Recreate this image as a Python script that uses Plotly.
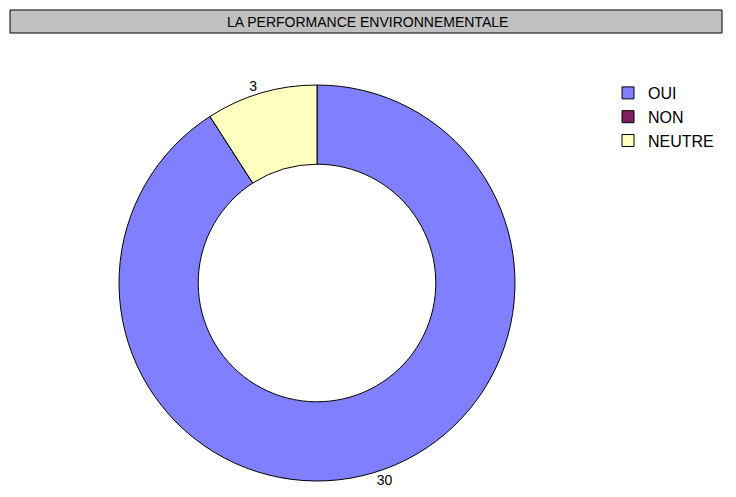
import plotly.graph_objects as go

categories = ["OUI", "NON", "NEUTRE"]
values = [30, 0, 3]
colors = ["#8080FF", "#802060", "#FFFFC0"]
title_text = "LA PERFORMANCE ENVIRONNEMENTALE"

OFF = 8  # page body margin
W, H = 728, 489
cx, cy, r = 317 - OFF, 283 - OFF, 198

labels_text = [str(v) if v > 0 else "" for v in values]

fig = go.Figure(go.Pie(
    labels=categories,
    values=values,
    text=labels_text,
    textinfo="text",
    textposition="outside",
    sort=False,
    direction="clockwise",
    rotation=0,
    hole=0.6,
    marker=dict(colors=colors, line=dict(color="black", width=1)),
    textfont=dict(family="Liberation Sans, Arial", size=14, color="black"),
    domain=dict(x=[(cx - r) / W, (cx + r) / W], y=[1 - (cy + r) / H, 1 - (cy - r) / H]),
    showlegend=True,
    automargin=False,
))

fig.add_shape(type="rect", xref="paper", yref="paper",
              x0=(10 - OFF) / W, x1=(722 - OFF) / W, y0=1 - (33 - OFF) / H, y1=1 - (10 - OFF) / H,
              fillcolor="#C0C0C0", line=dict(color="black", width=1), layer="below")
fig.add_annotation(text=title_text, xref="paper", yref="paper",
                   x=(367 - OFF) / W, y=1 - (22 - OFF) / H, showarrow=False,
                   font=dict(family="Liberation Sans, Arial", size=14, color="black"),
                   xanchor="center", yanchor="middle")

fig.update_layout(
    width=W, height=H,
    margin=dict(l=0, r=0, t=0, b=0),
    paper_bgcolor="white", plot_bgcolor="white",
    legend=dict(x=(608 - OFF) / W, y=1 - (76 - OFF) / H, xanchor="left", yanchor="top",
                font=dict(family="Liberation Sans, Arial", size=16, color="black"),
                bgcolor="rgba(0,0,0,0)", itemwidth=30, tracegroupgap=0),
)

fig.write_html("out.html")
